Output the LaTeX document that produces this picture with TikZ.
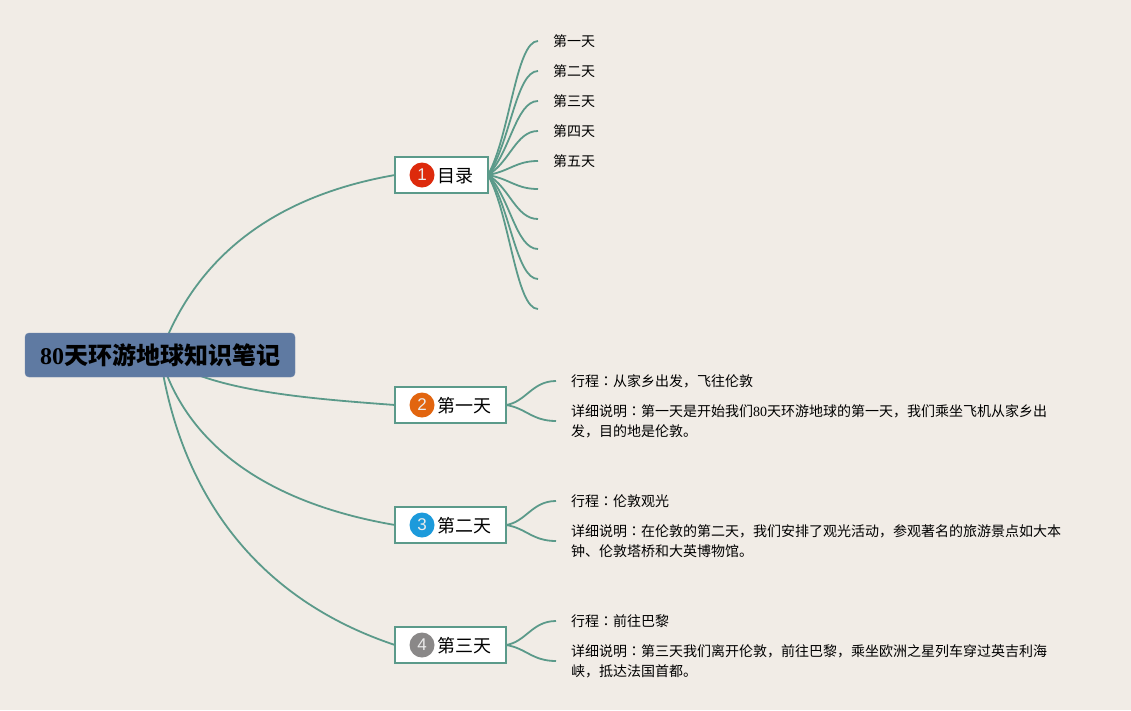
\documentclass[tikz,border=0pt]{standalone}
\usepackage{fontspec}
\setmainfont{Liberation Serif}
\setsansfont{Liberation Sans}
\newfontfamily\cjk{Noto Sans CJK SC}
\newfontfamily\cjktc{Noto Sans CJK TC}
\newcommand{\cm}{{\cjktc ：}}
\newcommand{\eighty}{{\rmfamily 80}}
\usetikzlibrary{positioning,backgrounds}
\definecolor{paper}{HTML}{F1ECE6}
\definecolor{branch}{HTML}{5B9A8A}
\definecolor{rootblue}{HTML}{5F7AA2}
\definecolor{badgered}{HTML}{DD2A0C}
\definecolor{badgeorange}{HTML}{E2650F}
\definecolor{badgeblue}{HTML}{1C9ADB}
\definecolor{badgegray}{HTML}{8A8888}
\tikzset{
  rootbox/.style={draw=rootblue!90!white,fill=rootblue,rounded corners=4,minimum width=270,minimum height=44,inner sep=0,font=\cjk\bfseries\fontsize{24}{28}\selectfont},
  topicbox/.style={draw=branch,line width=2,fill=white,minimum height=36,inner sep=0,outer sep=0,anchor=west},
  badge/.style={circle,minimum size=25,inner sep=0,text=white!85!gray,font=\sffamily\fontsize{17}{20}\selectfont},
  topictext/.style={inner sep=0,yshift=-1,font=\cjk\fontsize{18}{22}\selectfont},
  leaf/.style={anchor=west,inner xsep=15,inner ysep=0,align=left,font=\cjk\fontsize{14}{20}\selectfont},
  branchline/.style={draw=branch,line width=1.8},
}
\begin{document}
\begin{tikzpicture}[x=1pt,y=-1pt]
\useasboundingbox (0,0) rectangle (1131,710);
\node[rootbox] (root) at (160,355) {\raisebox{-2pt}{\eighty 天环游地球知识笔记}};
\node[topicbox,minimum width=93] (mulu) at (395,175) {};
\node[topicbox,minimum width=111] (day1) at (395,405) {};
\node[topicbox,minimum width=111] (day2) at (395,525) {};
\node[topicbox,minimum width=111] (day3) at (395,645) {};
\node[badge,fill=badgered] (b1) at (422,175) {1};
\node[badge,fill=badgeorange] (b2) at (422,405) {2};
\node[badge,fill=badgeblue] (b3) at (422,525) {3};
\node[badge,fill=badgegray] (b4) at (422,645) {4};
\node[topictext,right=3 of b1] (t1) {目录};
\node[topictext,right=3 of b2] (t2) {第一天};
\node[topictext,right=3 of b3] (t3) {第二天};
\node[topictext,right=3 of b4] (t4) {第三天};
\node[leaf] (m1) at (538,41) {第一天};
\node[leaf] (m2) at (538,71) {第二天};
\node[leaf] (m3) at (538,101) {第三天};
\node[leaf] (m4) at (538,131) {第四天};
\node[leaf] (m5) at (538,161) {第五天};
\coordinate (m6) at (538,189);
\coordinate (m7) at (538,219);
\coordinate (m8) at (538,249);
\coordinate (m9) at (538,279);
\coordinate (m10) at (538,309);
\node[leaf] (a1) at (556,381) {行程\cm 从家乡出发，飞往伦敦};
\node[leaf] (a2) at (556,421) {详细说明\cm 第一天是开始我们\eighty 天环游地球的第一天，我们乘坐飞机从家乡出\\发，目的地是伦敦。};
\node[leaf] (c1) at (556,501) {行程\cm 伦敦观光};
\node[leaf] (c2) at (556,541) {详细说明\cm 在伦敦的第二天，我们安排了观光活动，参观著名的旅游景点如大本\\钟、伦敦塔桥和大英博物馆。};
\node[leaf] (e1) at (556,621) {行程\cm 前往巴黎};
\node[leaf] (e2) at (556,661) {详细说明\cm 第三天我们离开伦敦，前往巴黎，乘坐欧洲之星列车穿过英吉利海\\峡，抵达法国首都。};
\begin{pgfonlayer}{background}
\fill[paper] (0,0) rectangle (1131,710);
\draw[branchline] (root.center) .. controls (197,252) and (280,195) .. (mulu.west);
\draw[branchline] (root.center) .. controls (205,390) and (300,398) .. (day1.west);
\draw[branchline] (root.center) .. controls (188,452) and (278,505) .. (day2.west);
\draw[branchline] (root.center) .. controls (178,480) and (245,595) .. (day3.west);
\end{pgfonlayer}
\foreach \n/\d in {m1/-40,m2/-31,m3/-22,m4/-13,m5/-4}
  \draw[branchline] (mulu.east) .. controls +(22,\d) and +(-22,0) .. (\n.west);
\foreach \n/\d in {m6/4,m7/13,m8/22,m9/31,m10/40}
  \draw[branchline] (mulu.east) .. controls +(22,\d) and +(-22,0) .. (\n);
\draw[branchline] (day1.east) .. controls +(20,-3) and +(-24,0) .. (a1.west);
\draw[branchline] (day1.east) .. controls +(20,3) and +(-24,0) .. (a2.west);
\draw[branchline] (day2.east) .. controls +(20,-3) and +(-24,0) .. (c1.west);
\draw[branchline] (day2.east) .. controls +(20,3) and +(-24,0) .. (c2.west);
\draw[branchline] (day3.east) .. controls +(20,-3) and +(-24,0) .. (e1.west);
\draw[branchline] (day3.east) .. controls +(20,3) and +(-24,0) .. (e2.west);
\end{tikzpicture}
\end{document}
